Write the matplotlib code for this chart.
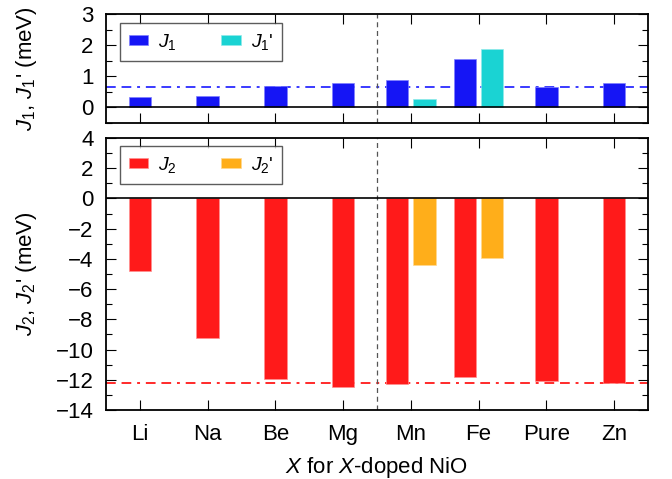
import matplotlib
matplotlib.use("Agg")
import matplotlib.pyplot as plt
import numpy as np
from matplotlib.ticker import MultipleLocator

plt.rcParams['font.family'] = ['Liberation Sans', 'DejaVu Sans']
plt.rcParams['mathtext.fontset'] = 'custom'
plt.rcParams['mathtext.rm'] = 'Liberation Sans'
plt.rcParams['mathtext.it'] = 'Liberation Sans:italic'

categories = ['Li', 'Na', 'Be', 'Mg', 'Mn', 'Fe', 'Pure', 'Zn']
J1 = [0.35, 0.37, 0.70, 0.80, 0.87, 1.57, 0.65, 0.80]
J1p = [None, None, None, None, 0.28, 1.87, None, None]
J2 = [-4.8, -9.25, -11.95, -12.45, -12.3, -11.85, -12.1, -12.2]
J2p = [None, None, None, None, -4.4, -3.95, None, None]
J1_ref = 0.67
J2_ref = -12.2

c_J1 = '#1515f5'
c_J1p = '#1ad3d3'
c_J2 = '#ff1a1a'
c_J2p = '#ffae1a'

fig = plt.figure(figsize=(6.72, 4.79), dpi=100)
ax1 = fig.add_axes([0.1577, 0.7432, 0.8065, 0.2276])
ax2 = fig.add_axes([0.1577, 0.1441, 0.8065, 0.5678])

x = np.arange(len(categories))
w = 0.33
off = 0.2

def positions(primary, secondary):
    xp, xs, vs = [], [], []
    for i, s in enumerate(secondary):
        if s is None:
            xp.append(x[i])
        else:
            xp.append(x[i] - off)
            xs.append(x[i] + off)
            vs.append(s)
    return xp, xs, vs

dash = (0, (5, 3, 5, 3, 1.5, 3))

xp1, xs1, vs1 = positions(J1, J1p)
ax1.bar(xp1, J1, width=w, color=c_J1, edgecolor='#8080ff', linewidth=0.5, label='$J_1$', zorder=2)
ax1.bar(xs1, vs1, width=w, color=c_J1p, edgecolor='#90eaea', linewidth=0.5, label="$J_1$'", zorder=2)
ax1.axhline(J1_ref, color='#3a3aff', lw=1.4, ls=dash, zorder=1)

xp2, xs2, vs2 = positions(J2, J2p)
ax2.bar(xp2, J2, width=w, color=c_J2, edgecolor='#ff9090', linewidth=0.5, label='$J_2$', zorder=2)
ax2.bar(xs2, vs2, width=w, color=c_J2p, edgecolor='#ffd890', linewidth=0.5, label="$J_2$'", zorder=2)
ax2.axhline(J2_ref, color='#ff2a2a', lw=1.4, ls=dash, zorder=1)

for ax in (ax1, ax2):
    ax.axhline(0, color='black', lw=1.2, zorder=3)
    ax.axvline(3.5, color='#555555', lw=0.9, ls=(0, (4, 3)), zorder=1.5)
    ax.set_xlim(-0.5, 7.5)
    ax.set_xticks(x)
    ax.tick_params(axis='both', which='both', direction='in', top=True, right=True, labelsize=16)
    ax.tick_params(axis='both', which='major', length=7, width=0.8)
    ax.tick_params(axis='y', which='minor', length=4, width=0.8)
    ax.tick_params(axis='y', which='both', pad=9)
    for sp in ax.spines.values():
        sp.set_linewidth(1.3)

ax1.set_ylim(-0.5, 3)
ax1.yaxis.set_major_locator(MultipleLocator(1))
ax1.yaxis.set_minor_locator(MultipleLocator(0.5))
ax1.set_xticklabels([])
ax1.set_ylabel("$J_1$, $J_1$' (meV)", fontsize=16)

ax2.set_ylim(-14, 4)
ax2.yaxis.set_major_locator(MultipleLocator(2))
ax2.yaxis.set_minor_locator(MultipleLocator(1))
ax2.set_xticklabels(categories)
ax2.tick_params(axis='x', pad=10)
ax2.set_ylabel("$J_2$, $J_2$' (meV)", fontsize=16)
ax2.set_xlabel("$X$ for $X$-doped NiO", fontsize=16, labelpad=7)
ax2.set_yticklabels([('\u2212' + str(abs(int(v)))) if v < 0 else str(int(v)) for v in ax2.get_yticks()])

anchors = {ax1: (0.026, 0.917), ax2: (0.026, 0.969)}
for ax in (ax1, ax2):
    leg = ax.legend(loc='upper left', ncol=2, fontsize=14, frameon=True, fancybox=False,
                    edgecolor='#333333', borderpad=0.45, handlelength=1.0, handleheight=0.45,
                    handletextpad=0.5, columnspacing=2.3, borderaxespad=0,
                    bbox_to_anchor=anchors[ax])
    leg.get_frame().set_linewidth(1.0)

ax1.yaxis.set_label_coords(-0.123, 0.5)
ax2.yaxis.set_label_coords(-0.123, 0.5)

fig.savefig('out.png', dpi=100)
